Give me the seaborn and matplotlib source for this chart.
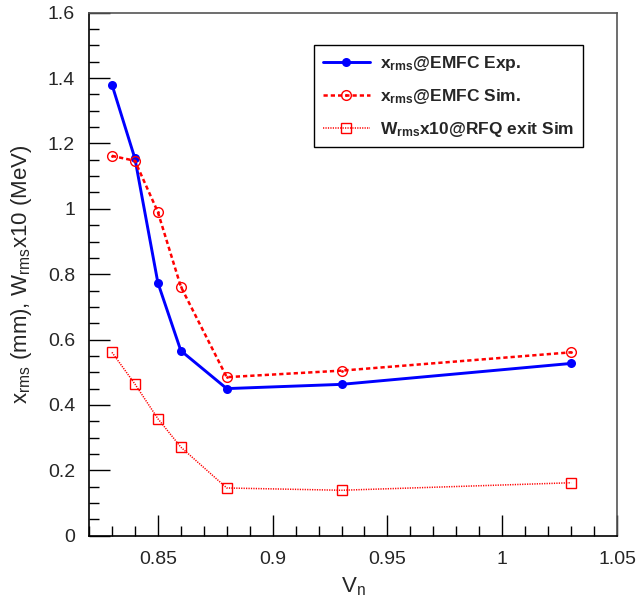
import matplotlib
matplotlib.use("Agg")
import matplotlib.pyplot as plt
import seaborn as sns
import numpy as np
from matplotlib.ticker import MultipleLocator, FuncFormatter

sns.set_theme(style="white")
plt.rcParams['font.family'] = ['Liberation Sans', 'DejaVu Sans']
plt.rcParams['mathtext.fontset'] = 'custom'
plt.rcParams['mathtext.rm'] = 'Liberation Sans'
plt.rcParams['mathtext.bf'] = 'Liberation Sans:bold'
plt.rcParams['mathtext.it'] = 'Liberation Sans'

vn = [0.83, 0.84, 0.85, 0.86, 0.88, 0.93, 1.03]
xrms_exp = [1.380, 1.154, 0.774, 0.566, 0.450, 0.463, 0.527]
xrms_sim = [1.162, 1.147, 0.990, 0.762, 0.485, 0.505, 0.561]
wrms_sim = [0.561, 0.464, 0.358, 0.271, 0.146, 0.139, 0.162]

label_exp = r'$\mathbf{x_{rms}}$@EMFC Exp.'
label_sim = r'$\mathbf{x_{rms}}$@EMFC Sim.'
label_w = r'$\mathbf{W_{rms}}$x10@RFQ exit Sim'

fig = plt.figure(figsize=(6.36, 6.04), dpi=100)
ax = fig.add_axes([89/636, (604-535.7)/604, (617-89)/636, (535.7-12.7)/604])

red = '#ff0000'
blue = '#0000ff'

sns.lineplot(x=vn, y=xrms_exp, ax=ax, color=blue, linewidth=2.1, linestyle='-',
             marker='o', markersize=6.5, markeredgewidth=0, markerfacecolor=blue)
sns.lineplot(x=vn, y=xrms_sim, ax=ax, color=red, linewidth=1.8, linestyle=(0, (1.7, 1.2)),
             marker='o', markersize=7, markerfacecolor='none', markeredgecolor=red,
             markeredgewidth=1.0)
sns.lineplot(x=vn, y=xrms_sim, ax=ax, color=red, linewidth=0,
             marker='o', markersize=2, markeredgewidth=0, markerfacecolor=red)
sns.lineplot(x=vn, y=wrms_sim, ax=ax, color=red, linewidth=1.1, linestyle=(0, (0.8, 0.8)),
             marker='s', markersize=7, markerfacecolor='none', markeredgecolor=red,
             markeredgewidth=1.0)

lines = ax.get_lines()
h_exp = lines[0]
h_sim = (lines[1], lines[2])
h_w = lines[3]

ax.set_xlim(0.82, 1.05)
ax.set_ylim(0, 1.6)

ax.xaxis.set_major_locator(MultipleLocator(0.05))
ax.xaxis.set_minor_locator(MultipleLocator(0.01))
ax.yaxis.set_major_locator(MultipleLocator(0.2))
ax.yaxis.set_minor_locator(MultipleLocator(0.05))

def fmt(v, pos):
    return ('%.2f' % v).rstrip('0').rstrip('.')
ax.xaxis.set_major_formatter(FuncFormatter(fmt))
ax.yaxis.set_major_formatter(FuncFormatter(fmt))

ax.tick_params(axis='both', which='major', direction='in', length=15, width=1.0,
               color='black', labelsize=14, bottom=True, left=True, top=False, right=False)
ax.tick_params(axis='both', which='minor', direction='in', length=7.5, width=1.0,
               color='black', bottom=True, left=True, top=False, right=False)
ax.tick_params(axis='x', which='major', pad=11)
ax.tick_params(axis='y', which='major', pad=10)

for s in ['left', 'bottom']:
    ax.spines[s].set_color('black')
    ax.spines[s].set_linewidth(1.2)
for s in ['top', 'right']:
    ax.spines[s].set_color('#555555')
    ax.spines[s].set_linewidth(1.2)

ax.set_xlabel(r'V$_\mathregular{n}$', fontsize=16)
ax.set_ylabel(r'x$_\mathregular{rms}$ (mm), W$_\mathregular{rms}$x10 (MeV)', fontsize=16)
ax.xaxis.set_label_coords(0.5, -0.075)
ax.yaxis.set_label_coords(-0.105, 0.5)

leg = ax.legend([h_exp, h_sim, h_w], [label_exp, label_sim, label_w],
                loc='upper right', bbox_to_anchor=(0.936, 0.938),
                frameon=True, fancybox=False, shadow=False, framealpha=1,
                edgecolor='black', handlelength=2.7, handletextpad=0.6,
                labelspacing=0.8, borderpad=0.5, borderaxespad=0, numpoints=1,
                prop={'weight': 'bold', 'size': 12.5})
leg.get_frame().set_linewidth(1.0)

fig.savefig('out.png', dpi=100)
